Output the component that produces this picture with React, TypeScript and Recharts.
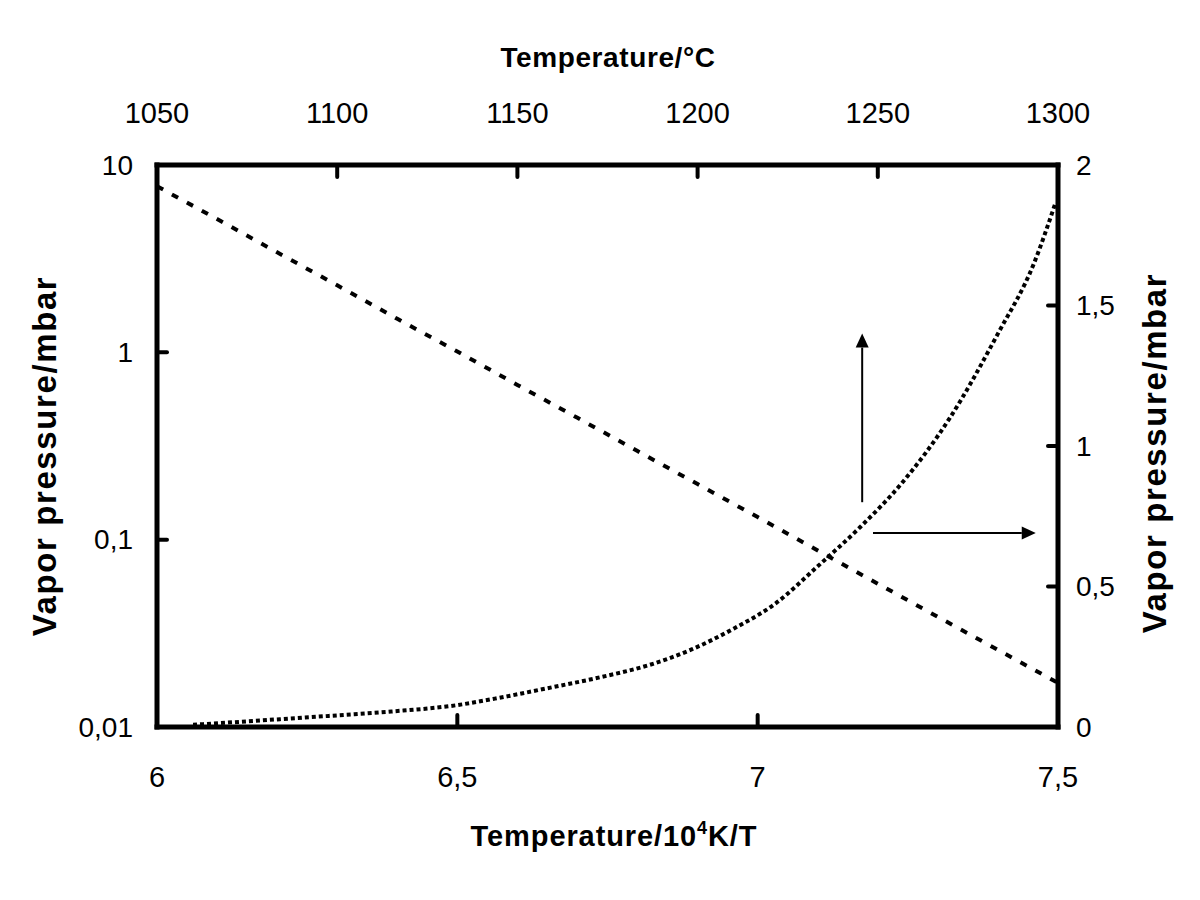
import React from "react";
import { LineChart, Line, XAxis, YAxis, ReferenceLine } from "recharts";

// axis ticks
const kelvinTicks = [6, 6.5, 7, 7.5];
const celsiusTicks = [1050, 1100, 1150, 1200, 1250, 1300];
const logTicks = [0.01, 0.1, 1, 10];
const linearTicks = [0, 0.5, 1, 1.5, 2];

// dashed curve, left (log) axis
const dashedX = [6.0, 6.1, 6.2, 6.3, 6.4, 6.5, 6.6, 6.7, 6.8, 6.9, 7.0, 7.1, 7.2, 7.3, 7.4, 7.5];
const dashedP = [7.7, 5.15, 3.42, 2.28, 1.51, 1.01, 0.67, 0.447, 0.297, 0.198, 0.132, 0.0875, 0.0582, 0.0387, 0.0258, 0.0172];

// dotted curve, right (linear) axis
const dottedX = [6.06, 6.15, 6.22, 6.29, 6.39, 6.5, 6.57, 6.65, 6.74, 6.82, 6.89, 6.96, 7.03, 7.1, 7.17, 7.24, 7.32, 7.4, 7.46, 7.495];
const dottedP = [0.008, 0.02, 0.03, 0.04, 0.055, 0.078, 0.104, 0.138, 0.178, 0.221, 0.276, 0.35, 0.44, 0.572, 0.71, 0.868, 1.1, 1.4, 1.65, 1.86];

// annotation arrows (bottom x / right y)
const arrows = [
  { x1: 7.174, y1: 0.8, x2: 7.174, y2: 1.4 },
  { x1: 7.192, y1: 0.69, x2: 7.463, y2: 0.69 },
];

const logSeries = dashedX.map((x, i) => ({ x, p: dashedP[i] }));
const linSeries = dottedX.map((x, i) => ({ x, p: dottedP[i] }));

const FONT = "'Liberation Sans', Arial, sans-serif";
const comma = (v: number) => String(v).replace(".", ",");

const axisStyle = { stroke: "#000", strokeWidth: 5, strokeLinecap: "square" as const };
const tickStyle = { stroke: "#000", strokeWidth: 4, strokeLinecap: "round" as const };

function BottomTick({ x, y, payload }: any) {
  return (
    <text x={x} y={y} textAnchor="middle" fontFamily={FONT} fontSize={29} fill="#000">
      {comma(payload.value)}
    </text>
  );
}

function TopTick({ x, y, payload }: any) {
  return (
    <text x={x} y={y} textAnchor="middle" fontFamily={FONT} fontSize={29} fill="#000">
      {payload.value}
    </text>
  );
}

function LeftTick({ x, y, payload }: any) {
  return (
    <text x={x} y={y} dy="0.35em" textAnchor="end" fontFamily={FONT} fontSize={28} fill="#000">
      {comma(payload.value)}
    </text>
  );
}

function RightTick({ x, y, payload }: any) {
  return (
    <text x={x} y={y} dy="0.35em" textAnchor="start" fontFamily={FONT} fontSize={28} fill="#000">
      {comma(payload.value)}
    </text>
  );
}

function Title({ tx, ty, rotate, size, spacing, children }: any) {
  return (
    <text
      x={tx}
      y={ty}
      transform={rotate ? `rotate(-90, ${tx}, ${ty})` : undefined}
      textAnchor="middle"
      fontFamily={FONT}
      fontWeight="bold"
      fontSize={size}
      letterSpacing={spacing}
      fill="#000"
    >
      {children}
    </text>
  );
}

function Arrow(props: any) {
  const { x1, y1, x2, y2 } = props;
  const ang = Math.atan2(y2 - y1, x2 - x1);
  const len = 14;
  const half = 6.5;
  const bx = x2 - len * Math.cos(ang);
  const by = y2 - len * Math.sin(ang);
  const px = -Math.sin(ang) * half;
  const py = Math.cos(ang) * half;
  return (
    <g>
      <line x1={x1} y1={y1} x2={bx} y2={by} stroke="#000" strokeWidth={2} />
      <polygon points={`${x2},${y2} ${bx + px},${by + py} ${bx - px},${by - py}`} fill="#000" />
    </g>
  );
}

export default function App() {
  return (
    <div style={{ position: "absolute", left: 0, top: 0, width: 1200, height: 900, background: "#fff" }}>
      <LineChart
        width={1200}
        height={900}
        data={logSeries}
        margin={{ top: 95, right: 62, bottom: 93, left: 57 }}
      >
        <XAxis
          xAxisId="bottom"
          dataKey="x"
          type="number"
          orientation="bottom"
          domain={[6, 7.5]}
          ticks={kelvinTicks}
          allowDataOverflow
          interval={0}
          height={80}
          axisLine={axisStyle}
          tickLine={tickStyle}
          tickSize={-12}
          tickMargin={72}
          tick={(p: any) => <BottomTick {...p} />}
          label={
            <Title tx={614} ty={846} size={29} spacing={0.9}>
              Temperature/10
              <tspan dy={-12} fontSize={18}>4</tspan>
              <tspan dy={12}>K/T</tspan>
            </Title>
          }
        />
        <XAxis
          xAxisId="top"
          dataKey="x"
          type="number"
          orientation="top"
          domain={[1050, 1300]}
          ticks={celsiusTicks}
          allowDataOverflow
          interval={0}
          height={70}
          axisLine={axisStyle}
          tickLine={tickStyle}
          tickSize={-12}
          tickMargin={54}
          tick={(p: any) => <TopTick {...p} />}
          label={
            <Title tx={608} ty={67} size={28} spacing={0.6}>
              Temperature/°C
            </Title>
          }
        />
        <YAxis
          yAxisId="left"
          orientation="left"
          scale="log"
          type="number"
          domain={[0.01, 10]}
          ticks={logTicks}
          allowDataOverflow
          interval={0}
          width={100}
          axisLine={axisStyle}
          tickLine={tickStyle}
          tickSize={-10}
          tickMargin={34}
          tick={(p: any) => <LeftTick {...p} />}
          label={
            <Title tx={56} ty={456} rotate size={33} spacing={1.6}>
              Vapor pressure/mbar
            </Title>
          }
        />
        <YAxis
          yAxisId="right"
          orientation="right"
          type="number"
          domain={[0, 2]}
          ticks={linearTicks}
          allowDataOverflow
          interval={0}
          width={80}
          axisLine={axisStyle}
          tickLine={tickStyle}
          tickSize={-10}
          tickMargin={28}
          tick={(p: any) => <RightTick {...p} />}
          label={
            <Title tx={1166} ty={453} rotate size={33} spacing={1.6}>
              Vapor pressure/mbar
            </Title>
          }
        />
        <Line
          data={logSeries}
          xAxisId="bottom"
          yAxisId="left"
          dataKey="p"
          type="linear"
          stroke="#000"
          strokeWidth={4}
          strokeDasharray="7 10"
          dot={false}
          activeDot={false}
          isAnimationActive={false}
        />
        <Line
          data={linSeries}
          xAxisId="bottom"
          yAxisId="right"
          dataKey="p"
          type="monotone"
          stroke="#000"
          strokeWidth={4}
          strokeDasharray="4 3"
          dot={false}
          activeDot={false}
          isAnimationActive={false}
        />
        {arrows.map((a, i) => (
          <ReferenceLine
            key={i}
            xAxisId="bottom"
            yAxisId="right"
            segment={[
              { x: a.x1, y: a.y1 },
              { x: a.x2, y: a.y2 },
            ]}
            ifOverflow="visible"
            shape={(p: any) => <Arrow {...p} />}
          />
        ))}
      </LineChart>
    </div>
  );
}
